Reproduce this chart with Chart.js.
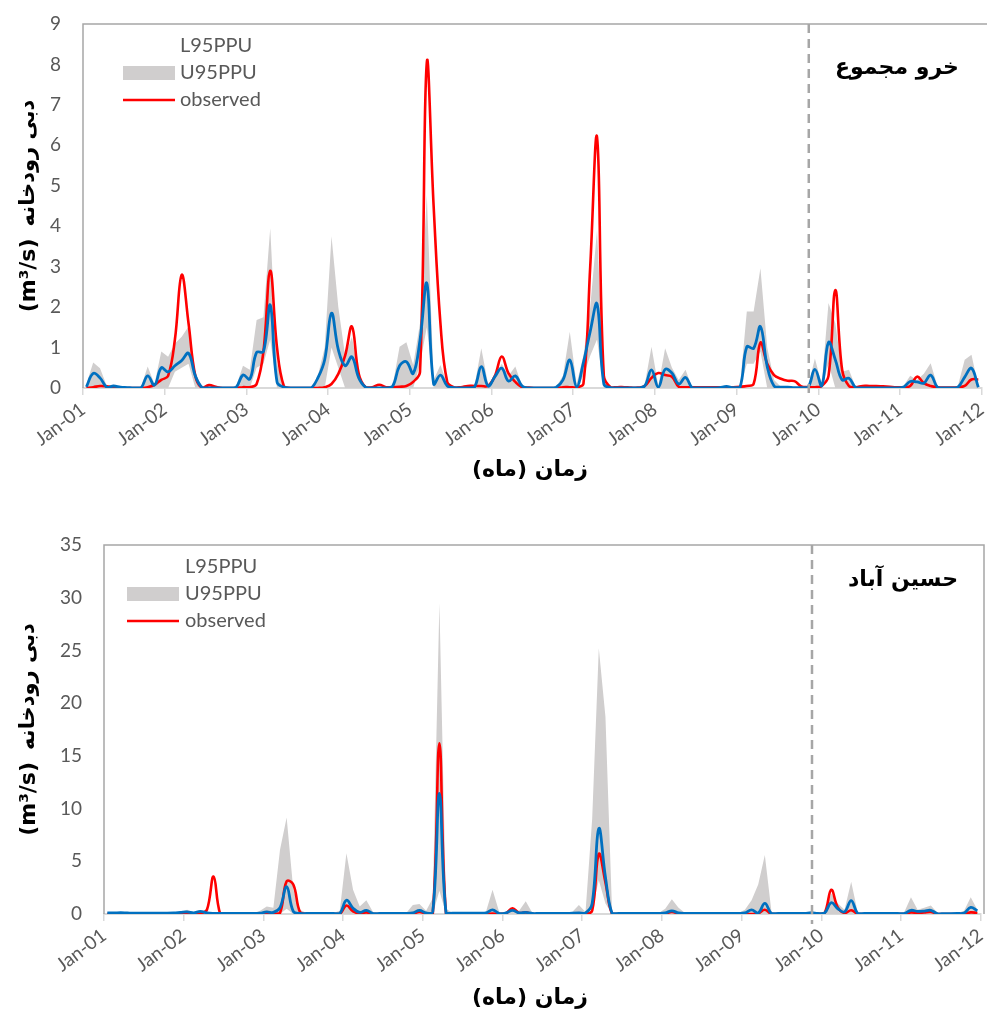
<!DOCTYPE html>
<html>
<head>
<meta charset="utf-8">
<script src="https://cdn.jsdelivr.net/npm/chart.js@4.4.1/dist/chart.umd.min.js"></script>
<style>
  html, body { margin: 0; padding: 0; background: #fff; }
  #wrap { position: relative; width: 987px; height: 1012px; }
  canvas { position: absolute; left: 0; }
  #topChart { top: 0; }
  #bottomChart { top: 505px; }
</style>
</head>
<body>
<div id="wrap">
  <canvas id="topChart" width="987" height="505"></canvas>
  <canvas id="bottomChart" width="987" height="507"></canvas>
</div>
<script>
// tick labels (one per January, monthly data Jan-01 .. Dec-11)
const yearLabels = ["Jan-01", "Jan-02", "Jan-03", "Jan-04", "Jan-05", "Jan-06",
  "Jan-07", "Jan-08", "Jan-09", "Jan-10", "Jan-11", "Jan-12"];
const splitMonth = 106.6; // calibration / validation divider

// ---- panel 1 : خرو مجموع ----
const obsTop = [
  0, 0.02, 0.05, 0.04, 0.02, 0.01, 0, 0, 0, 0.02, 0.08, 0.2,
  0.3, 1.2, 2.8, 1.6, 0.3, 0, 0.07, 0.03, 0, 0, 0, 0.02,
  0.02, 0.1, 0.9, 2.9, 1.0, 0.05, 0, 0, 0, 0, 0, 0.02,
  0.1, 0.35, 0.8, 1.52, 0.35, 0.02, 0.02, 0.08, 0.02, 0.02, 0.03, 0.05,
  0.15, 0.4, 8.05, 4.5, 1.6, 0.15, 0.02, 0.02, 0.05, 0.05, 0.05, 0.05,
  0.3, 0.78, 0.36, 0.15, 0.02, 0.01, 0, 0, 0, 0, 0.02, 0.02,
  0.02, 0.1, 3.0, 6.2, 0.3, 0.02, 0.02, 0.02, 0.01, 0.01, 0.05, 0.25,
  0.37, 0.32, 0.28, 0.03, 0.02, 0.02, 0.02, 0.02, 0.02, 0.02, 0.02, 0.02,
  0.03, 0.05, 0.1, 1.12, 0.6, 0.32, 0.23, 0.18, 0.17, 0.04, 0.02, 0.02,
  0.05, 0.3, 2.42, 0.45, 0.05, 0.02, 0.05, 0.05, 0.05, 0.04, 0.03, 0.02,
  0.02, 0.05, 0.28, 0.12, 0.05, 0.02, 0.01, 0.01, 0.02, 0.05, 0.21, 0.21
];
const simTop = [
  0.03, 0.36, 0.25, 0.02, 0.05, 0.02, 0.01, 0, 0, 0.3, 0.07, 0.5,
  0.4, 0.55, 0.68, 0.86, 0.3, 0.01, 0, 0, 0, 0, 0.02, 0.32,
  0.22, 0.88, 0.9, 2.05, 0.15, 0.02, 0, 0, 0, 0, 0.25, 0.7,
  1.85, 0.95, 0.55, 0.77, 0.25, 0.02, 0, 0, 0, 0.05, 0.55, 0.65,
  0.36, 1.19, 2.59, 0.1, 0.32, 0.05, 0.01, 0, 0, 0.02, 0.53, 0.05,
  0.28, 0.49, 0.17, 0.3, 0.05, 0, 0, 0, 0, 0.02, 0.2, 0.69,
  0.03, 0.63, 1.4, 2.08, 0.1, 0.01, 0, 0, 0, 0, 0.05, 0.45,
  0.02, 0.46, 0.37, 0.1, 0.26, 0, 0, 0, 0, 0.01, 0.04, 0.01,
  0.02, 1.02, 0.98, 1.52, 0.53, 0.05, 0.02, 0.02, 0.01, 0.01, 0.02, 0.46,
  0.05, 1.13, 0.7, 0.2, 0.24, 0.01, 0, 0, 0, 0, 0, 0,
  0.02, 0.16, 0.15, 0.12, 0.32, 0.02, 0, 0, 0.02, 0.27, 0.49, 0.02
];
const upTop = [
  0.1, 0.63, 0.49, 0.05, 0.08, 0.03, 0.01, 0, 0.02, 0.53, 0.1, 0.9,
  0.77, 1.1, 1.27, 1.52, 0.35, 0.03, 0.01, 0, 0, 0, 0.05, 0.55,
  0.45, 1.68, 1.75, 3.95, 0.6, 0.05, 0, 0, 0, 0.02, 0.3, 1.0,
  3.75, 2.0, 0.8, 1.27, 0.3, 0.03, 0, 0, 0, 0.08, 1.02, 1.13,
  0.57, 1.6, 4.77, 0.2, 0.57, 0.1, 0.02, 0, 0, 0.05, 0.98, 0.1,
  0.3, 0.6, 0.3, 0.53, 0.05, 0, 0, 0, 0, 0.03, 0.3, 1.39,
  0.1, 0.8, 2.0, 3.9, 0.2, 0.02, 0, 0, 0, 0, 0.08, 1.02,
  0.05, 0.98, 0.5, 0.2, 0.45, 0, 0, 0, 0, 0.02, 0.06, 0.02,
  0.05, 1.89, 1.89, 2.96, 1.0, 0.2, 0.03, 0.02, 0.02, 0.02, 0.05, 0.73,
  0.1, 2.1, 1.6, 0.4, 0.45, 0.02, 0, 0, 0, 0, 0, 0,
  0.05, 0.3, 0.2, 0.35, 0.61, 0.05, 0, 0, 0.05, 0.7, 0.82, 0.05
];
const lowTop = [
  0, 0, 0, 0, 0, 0, 0, 0, 0, 0, 0, 0,
  0, 0.4, 0.5, 0.6, 0, 0, 0, 0, 0, 0, 0, 0,
  0, 0.5, 0.6, 1.2, 0, 0, 0, 0, 0, 0, 0, 0,
  1.0, 0.5, 0, 0, 0, 0, 0, 0, 0, 0, 0, 0,
  0, 0.6, 1.5, 0, 0, 0, 0, 0, 0, 0, 0, 0,
  0, 0, 0, 0, 0, 0, 0, 0, 0, 0, 0, 0,
  0, 0.3, 0.8, 1.2, 0, 0, 0, 0, 0, 0, 0, 0,
  0, 0, 0, 0, 0, 0, 0, 0, 0, 0, 0, 0,
  0, 0.6, 0.6, 0.9, 0, 0, 0, 0, 0, 0, 0, 0,
  0, 0.6, 0, 0, 0, 0, 0, 0, 0, 0, 0, 0,
  0, 0, 0, 0, 0, 0, 0, 0, 0, 0, 0, 0
];

// ---- panel 2 : حسین آباد ----
const obsBot = [
  0, 0, 0, 0, 0, 0, 0, 0, 0, 0, 0, 0,
  0, 0, 0.05, 0.4, 3.56, 0, 0, 0, 0, 0, 0, 0,
  0, 0, 0.1, 3.1, 2.8, 0.2, 0, 0, 0, 0, 0, 0,
  0.8, 0.25, 0.05, 0.15, 0, 0, 0, 0, 0, 0, 0.05, 0.2,
  0.05, 0, 16.2, 0, 0, 0, 0, 0, 0, 0, 0.05, 0,
  0.05, 0.55, 0.1, 0.15, 0, 0, 0, 0, 0, 0, 0, 0,
  0, 0.3, 5.7, 3.0, 0, 0, 0, 0, 0, 0, 0, 0,
  0.05, 0.2, 0.05, 0, 0, 0, 0, 0, 0, 0, 0, 0,
  0, 0, 0.05, 0.4, 0, 0, 0, 0, 0, 0, 0, 0,
  0.1, 2.3, 0.6, 0.1, 0.35, 0, 0, 0, 0, 0, 0, 0,
  0, 0.15, 0.1, 0.15, 0.2, 0, 0, 0, 0, 0, 0.15, 0.1
];
const simBot = [
  0.1, 0.1, 0.12, 0.1, 0.08, 0.08, 0.08, 0.08, 0.08, 0.08, 0.1, 0.15,
  0.2, 0.1, 0.25, 0.1, 0.05, 0.05, 0.05, 0.05, 0.05, 0.05, 0.05, 0.08,
  0.2, 0.15, 0.6, 2.6, 0.25, 0.05, 0.05, 0.05, 0.05, 0.05, 0.05, 0.05,
  1.3, 0.55, 0.15, 0.35, 0.05, 0.05, 0.05, 0.05, 0.05, 0.05, 0.1, 0.35,
  0.1, 0.2, 11.45, 0.1, 0.08, 0.08, 0.08, 0.08, 0.08, 0.1, 0.4, 0.05,
  0.1, 0.35, 0.1, 0.15, 0.05, 0.05, 0.05, 0.05, 0.05, 0.05, 0.08, 0.1,
  0.1, 1.0, 8.1, 3.5, 0.05, 0.05, 0.05, 0.05, 0.05, 0.05, 0.05, 0.05,
  0.1, 0.3, 0.1, 0.05, 0.05, 0.05, 0.05, 0.05, 0.05, 0.05, 0.05, 0.05,
  0.1, 0.4, 0.1, 1.0, 0.05, 0.05, 0.05, 0.05, 0.05, 0.05, 0.1, 0.05,
  0.1, 1.07, 0.5, 0.2, 1.27, 0.05, 0.05, 0.05, 0.05, 0.05, 0.05, 0.05,
  0.05, 0.35, 0.25, 0.28, 0.35, 0.03, 0.03, 0.03, 0.05, 0.1, 0.63, 0.3
];
const upBot = [
  0.15, 0.15, 0.2, 0.15, 0.1, 0.1, 0.1, 0.1, 0.1, 0.1, 0.15, 0.2,
  0.4, 0.2, 0.3, 0.15, 0.1, 0.1, 0.1, 0.1, 0.1, 0.1, 0.1, 0.3,
  0.7, 0.6, 6.1, 9.15, 2.3, 0.4, 0.1, 0.1, 0.1, 0.1, 0.1, 0.3,
  5.76, 2.3, 0.7, 1.3, 0.2, 0.1, 0.1, 0.1, 0.1, 0.1, 0.85, 0.95,
  0.3, 1.5, 29.5, 0.5, 0.1, 0.1, 0.1, 0.1, 0.1, 0.2, 2.3, 0.2,
  0.15, 0.6, 0.3, 1.2, 0.1, 0.1, 0.1, 0.1, 0.1, 0.1, 0.2, 0.85,
  0.2, 9.0, 25.2, 18.7, 0.2, 0.1, 0.1, 0.1, 0.1, 0.1, 0.1, 0.1,
  0.5, 1.4, 0.6, 0.1, 0.1, 0.1, 0.1, 0.1, 0.1, 0.1, 0.1, 0.1,
  0.4, 1.3, 2.8, 5.6, 0.2, 0.1, 0.1, 0.1, 0.1, 0.1, 0.3, 0.1,
  0.2, 1.95, 1.0, 0.4, 3.07, 0.1, 0.1, 0.1, 0.1, 0.1, 0.1, 0.1,
  0.2, 1.58, 0.4, 0.6, 0.8, 0.1, 0.1, 0.1, 0.1, 0.3, 1.58, 0.4
];
const lowBot = [
  0, 0, 0, 0, 0, 0, 0, 0, 0, 0, 0, 0,
  0, 0, 0, 0, 0, 0, 0, 0, 0, 0, 0, 0,
  0, 0, 0, 0.5, 0, 0, 0, 0, 0, 0, 0, 0,
  0, 0, 0, 0, 0, 0, 0, 0, 0, 0, 0, 0,
  0, 0, 2.2, 0, 0, 0, 0, 0, 0, 0, 0, 0,
  0, 0, 0, 0, 0, 0, 0, 0, 0, 0, 0, 0,
  0, 0.5, 3.2, 1.0, 0, 0, 0, 0, 0, 0, 0, 0,
  0, 0, 0, 0, 0, 0, 0, 0, 0, 0, 0, 0,
  0, 0, 0, 0, 0, 0, 0, 0, 0, 0, 0, 0,
  0, 0, 0, 0, 0, 0, 0, 0, 0, 0, 0, 0,
  0, 0, 0, 0, 0, 0, 0, 0, 0, 0, 0, 0
];

const GRAY = "#d0cece";
const RED = "#ff0000";
const BLUE = "#0070c0";
const TXT = "#595959";
const FA_FONT = "'DejaVu Sans', sans-serif";

// monthly values sit mid-month on the axis
const toPts = (arr) => arr.map((v, i) => ({ x: i + 0.5, y: v }));

// legend, titles, frame and divider drawn over the chart
const decor = {
  id: "decor",
  afterDraw(chart, args, o) {
    const { ctx, chartArea: a, scales } = chart;
    ctx.save();

    // plot frame (left, top, right)
    ctx.strokeStyle = "#a6a6a6";
    ctx.lineWidth = 1.5;
    ctx.beginPath();
    ctx.moveTo(a.left, a.bottom);
    ctx.lineTo(a.left, a.top);
    ctx.lineTo(o.frameRight, a.top);
    ctx.lineTo(o.frameRight, a.bottom);
    ctx.stroke();

    // dashed divider
    const dx = scales.x.getPixelForValue(splitMonth);
    ctx.setLineDash([9, 6]);
    ctx.lineWidth = 2.5;
    ctx.beginPath();
    ctx.moveTo(dx, a.top);
    ctx.lineTo(dx, a.bottom + 10);
    ctx.stroke();
    ctx.setLineDash([]);

    // legend
    const lg = o.legend;
    ctx.font = "20px Lato";
    ctx.fillStyle = TXT;
    ctx.textAlign = "left";
    ctx.textBaseline = "middle";
    ctx.fillText("L95PPU", lg.tx, lg.y0);
    ctx.fillText("U95PPU", lg.tx, lg.y0 + lg.dy);
    ctx.fillText("observed", lg.tx, lg.y0 + 2 * lg.dy);
    ctx.fillStyle = GRAY;
    ctx.fillRect(lg.sx, lg.y0 + lg.dy - 7, 52, 14);
    ctx.strokeStyle = RED;
    ctx.lineWidth = 2.5;
    ctx.beginPath();
    ctx.moveTo(lg.sx, lg.y0 + 2 * lg.dy);
    ctx.lineTo(lg.sx + 52, lg.y0 + 2 * lg.dy);
    ctx.stroke();

    // persian texts
    ctx.fillStyle = "#000";
    ctx.direction = "rtl";
    ctx.textAlign = "center";
    ctx.font = "bold 22px " + FA_FONT;
    ctx.fillText(o.station, o.stationX, o.stationY);
    ctx.font = "bold 22px " + FA_FONT;
    ctx.fillText("زمان (ماه)", 530, o.xTitleY);

    // y title, rotated
    const cy = (a.top + a.bottom) / 2;
    ctx.translate(29, cy);
    ctx.rotate(-Math.PI / 2);
    ctx.direction = "ltr";
    ctx.textAlign = "left";
    const unit = "(m³/s)";
    const fa = "دبی رودخانه";
    ctx.font = "bold 22px " + FA_FONT;
    const wU = ctx.measureText(unit).width;
    ctx.font = "bold 21px " + FA_FONT;
    const wF = ctx.measureText(fa).width;
    const gap = 12;
    const start = -(wU + gap + wF) / 2;
    ctx.font = "bold 22px " + FA_FONT;
    ctx.fillText(unit, start, 0);
    ctx.font = "bold 21px " + FA_FONT;
    ctx.direction = "rtl";
    ctx.textAlign = "right";
    ctx.fillText(fa, start + wU + gap + wF, 0);

    ctx.restore();
  }
};

function makePanel(id, p) {
  return new Chart(document.getElementById(id), {
    type: "line",
    data: {
      datasets: [
        { label: "simulated", data: toPts(p.sim), borderColor: BLUE, borderWidth: 2.8,
          tension: 0.4, pointRadius: 0, fill: false, order: 0 },
        { label: "observed", data: toPts(p.obs), borderColor: RED, borderWidth: 2.6,
          tension: 0.4, pointRadius: 0, fill: false, order: 1 },
        { label: "L95PPU", data: toPts(p.low), borderColor: "rgba(0,0,0,0)", borderWidth: 0,
          pointRadius: 0, fill: false, order: 3 },
        { label: "U95PPU", data: toPts(p.up), borderColor: "rgba(0,0,0,0)", borderWidth: 0,
          backgroundColor: GRAY, pointRadius: 0, fill: "-1", order: 2 }
      ]
    },
    options: {
      responsive: false,
      animation: false,
      events: [],
      layout: { padding: { top: p.top, right: p.padRight, left: 0, bottom: 0 } },
      plugins: {
        legend: { display: false },
        tooltip: { enabled: false },
        decor: p.decor
      },
      scales: {
        x: {
          type: "linear",
          min: 0,
          max: 132,
          ticks: {
            stepSize: 12,
            autoSkip: false,
            maxRotation: 37,
            minRotation: 37,
            padding: 3,
            color: TXT,
            font: { family: "Lato", size: 19 },
            callback: (v) => yearLabels[Math.round(v / 12)]
          },
          grid: { drawOnChartArea: false, drawTicks: true, tickLength: 7, color: "#d9d9d9", lineWidth: 1.5 },
          border: { display: true, color: "#d9d9d9", width: 2 },
          afterFit: (s) => { s.height = p.xHeight; s.paddingLeft = 0; s.paddingRight = 0; }
        },
        y: {
          min: 0,
          max: p.yMax,
          ticks: {
            stepSize: p.yStep,
            padding: 22,
            color: TXT,
            font: { family: "Lato", size: 19 }
          },
          grid: { display: false, drawTicks: false },
          border: { display: false },
          afterFit: (s) => { s.width = p.left; s.paddingTop = 0; s.paddingBottom = 0; }
        }
      }
    },
    plugins: [decor]
  });
}

makePanel("topChart", {
  obs: obsTop, sim: simTop, up: upTop, low: lowTop,
  yMax: 9, yStep: 1, top: 24, left: 83, padRight: 5.3, xHeight: 117,
  decor: {
    frameRight: 990,
    legend: { tx: 180, sx: 123, y0: 46, dy: 27 },
    station: "خرو مجموع", stationX: 897, stationY: 68,
    xTitleY: 470
  }
});

makePanel("bottomChart", {
  obs: obsBot, sim: simBot, up: upBot, low: lowBot,
  yMax: 35, yStep: 5, top: 40, left: 104, padRight: 6.3, xHeight: 98,
  decor: {
    frameRight: 984,
    legend: { tx: 185, sx: 127, y0: 62, dy: 27 },
    station: "حسین آباد", stationX: 903, stationY: 75,
    xTitleY: 493
  }
});
</script>
</body>
</html>
